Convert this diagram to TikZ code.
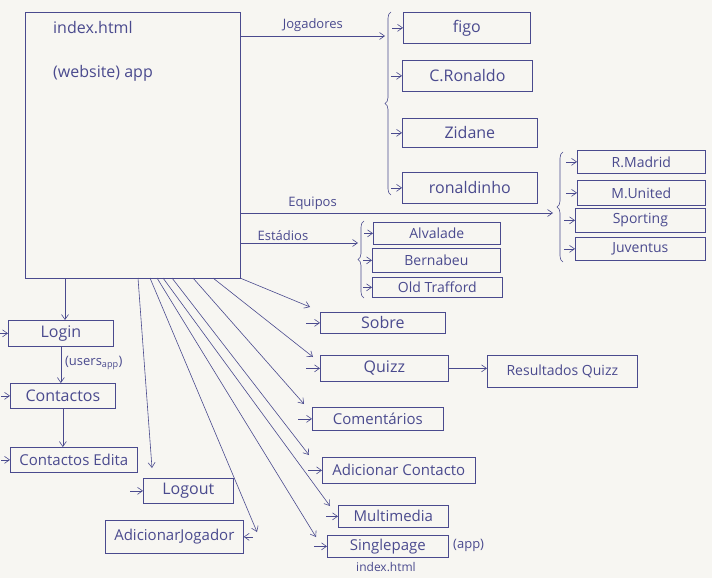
\documentclass[tikz,border=0pt]{standalone}
\usepackage{fontspec}
\setmainfont{Open Sans}
\usetikzlibrary{arrows.meta,decorations.pathreplacing,calc}
\definecolor{ink}{HTML}{4A4A8E}
\definecolor{paper}{HTML}{F7F6F2}
\begin{document}
\begin{tikzpicture}[x=1pt,y=-1pt,
  box/.style={draw=ink, line width=0.7pt, text=ink, inner sep=2pt, anchor=north west, font=\fontsize{15}{17}\selectfont},
  big/.style={font=\fontsize{16}{18}\selectfont},
  small/.style={font=\fontsize{14}{16}\selectfont},
  lbl/.style={text=ink, font=\fontsize{13}{15}\selectfont, inner sep=1pt},
  arr/.style={draw=ink, line width=0.6pt, -{Straight Barb[length=5pt,width=7pt]}},
  brc/.style={draw=ink, line width=0.6pt, decorate, decoration={brace, amplitude=6pt}}]
\fill[paper] (0,0) rectangle (712,578);
\useasboundingbox (0,0) rectangle (712,578);

% main box
\node[draw=ink, line width=0.7pt, anchor=north west, minimum width=215pt, minimum height=266pt, inner sep=0pt] (main) at (25,12) {};
\node[lbl, anchor=west, font=\fontsize{16}{18}\selectfont] (t1) at (52,28) {index.html};
\node[lbl, anchor=west, font=\fontsize{16}{18}\selectfont] (t2) at (52,73) {(website) app};

% players
\node[box, big, minimum width=127pt, minimum height=31pt] (figo) at (403,12) {figo};
\node[box, big, minimum width=130pt, minimum height=31pt] (cr) at (402,60) {C.Ronaldo};
\node[box, big, minimum width=135pt, minimum height=29pt] (zid) at (402,118) {Zidane};
\node[box, big, minimum width=135pt, minimum height=31pt] (ronh) at (402,172) {ronaldinho};
\coordinate (jb) at (385,36);
\draw[arr] (main.east |- jb) -- node[lbl, above=3pt, pos=0.5] (lj) {Jogadores} (jb);
\draw[brc] (391,195) -- (391,12);
\foreach \n in {figo,cr,zid,ronh} \draw[arr] ([xshift=-11pt]\n.west) -- (\n.west);

% teams
\node[box, small, minimum width=128pt, minimum height=23pt] (rm) at (577,150) {R.Madrid};
\node[box, small, minimum width=128pt, minimum height=25pt] (mu) at (577,180) {M.United};
\node[box, small, minimum width=130pt, minimum height=24pt] (sp) at (575,208) {Sporting};
\node[box, small, minimum width=130pt, minimum height=23pt] (ju) at (575,237) {Juventus};
\coordinate (eb) at (553,213);
\draw[arr] (main.east |- eb) -- node[lbl, above=2pt, pos=0.23] (le) {Equipos} (eb);
\draw[brc] (563,262) -- (563,152);
\foreach \n in {rm,mu,sp,ju} \draw[arr] ([xshift=-11pt]\n.west) -- (\n.west);

% stadiums
\node[box, small, minimum width=127pt, minimum height=22pt] (alv) at (373,222) {Alvalade};
\node[box, small, minimum width=128pt, minimum height=24pt] (ber) at (372,248) {Bernabeu};
\node[box, small, minimum width=130pt, minimum height=20pt] (old) at (372,277) {Old Trafford};
\coordinate (sb) at (358,243);
\draw[arr] (main.east |- sb) -- node[lbl, above=1pt, pos=0.36] (ls) {Estádios} (sb);
\draw[brc] (364,298) -- (364,221);
\foreach \n in {alv,ber,old} \draw[arr] ([xshift=-9pt]\n.west) -- (\n.west);

% left column
\node[box, big, minimum width=105pt, minimum height=26pt] (login) at (8,320) {Login};
\node[box, big, minimum width=105pt, minimum height=25pt] (cont) at (10,383) {Contactos};
\node[box, minimum width=127pt, minimum height=25pt] (cedit) at (10,447) {Contactos Edita};
\node[box, big, minimum width=90pt, minimum height=25pt] (logout) at (143,478) {Logout};
\node[box, minimum width=138pt, minimum height=33pt] (adj) at (105,520) {AdicionarJogador};
\coordinate (sL) at (65,278);
\draw[arr] (sL) -- (sL |- login.north);
\draw[arr] (login.south) -- node[lbl, right=3pt, pos=0.45] (lu) {(users\textsubscript{app})} (login.south |- cont.north);
\draw[arr] (cont.south) -- (cont.south |- cedit.north);
\draw[arr] ([xshift=-8pt]login.west) -- (login.west);
\draw[arr] ([xshift=-9pt]cont.west) -- (cont.west);
\draw[arr] ([xshift=-9pt]cedit.west) -- (cedit.west);
\draw[arr] ([xshift=-13pt]logout.west) -- (logout.west);
\draw[arr] ([xshift=9pt]adj.east) -- (adj.east);

% right column
\node[box, big, minimum width=125pt, minimum height=21pt] (sobre) at (320,312) {Sobre};
\node[box, big, minimum width=128pt, minimum height=26pt] (quizz) at (320,355) {Quizz};
\node[box, small, minimum width=150pt, minimum height=32pt] (res) at (487,355) {Resultados Quizz};
\node[box, minimum width=131pt, minimum height=23pt] (com) at (312,407) {Comentários};
\node[box, minimum width=153pt, minimum height=26pt] (addc) at (322,457) {Adicionar Contacto};
\node[box, minimum width=110pt, minimum height=22pt] (multi) at (338,505) {Multimedia};
\node[box, minimum width=121pt, minimum height=22pt] (single) at (327,535) {Singlepage};
\node[lbl, anchor=west] (lapp) at (452,545) {(app)};
\node[lbl, font=\fontsize{12}{14}\selectfont] (lidx) at (386,567) {index.html};
\draw[arr] (quizz.east) -- (quizz.east -| res.west);
\foreach \n/\d in {sobre/14,quizz/14,com/14,addc/14,multi/12,single/13} \draw[arr] ([xshift=-\d pt]\n.west) -- (\n.west);

% long arrows from main box
\coordinate (b1) at (138,278); \coordinate (e1) at (152,468);
\coordinate (b2) at (150,278); \coordinate (e2) at (257,532);
\coordinate (b3) at (157,278); \coordinate (e3) at (316,537);
\coordinate (b4) at (163,278); \coordinate (e4) at (330,506);
\coordinate (b5) at (172,278); \coordinate (e5) at (309,455);
\coordinate (b6) at (193,278); \coordinate (e6) at (304,404);
\coordinate (b7) at (213,278); \coordinate (e7) at (313,357);
\coordinate (b8) at (240,278); \coordinate (e8) at (310,307);
\foreach \i in {1,...,8} \draw[arr] (b\i) -- (e\i);
\end{tikzpicture}
\end{document}
